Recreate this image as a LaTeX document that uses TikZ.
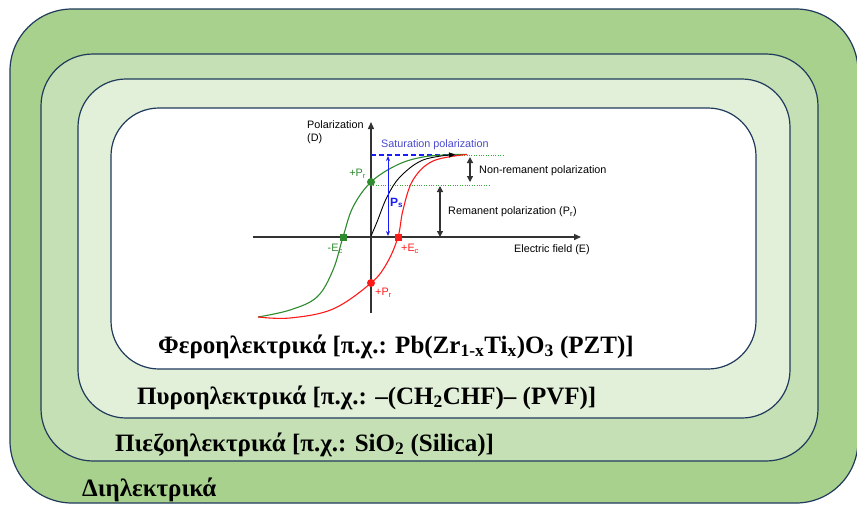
\documentclass[tikz,border=0pt]{standalone}
\usepackage{fontspec}
\setmainfont{Liberation Serif}
\newfontfamily\chartfont{Liberation Sans}
\usetikzlibrary{arrows.meta}
\definecolor{ringA}{HTML}{A9D18E}
\definecolor{ringB}{HTML}{C5E0B4}
\definecolor{ringC}{HTML}{E2F0D9}
\definecolor{rimcol}{HTML}{1F3A5C}
\definecolor{axiscol}{HTML}{333333}
\definecolor{grn}{HTML}{2E8B2E}
\definecolor{dotgrn}{HTML}{3AAA3A}
\definecolor{redc}{HTML}{FF1A1A}
\definecolor{bluec}{HTML}{1A1AFF}
\definecolor{satcol}{HTML}{4A4AD0}
\tikzset{
  ring/.style={draw=rimcol, line width=1.2pt},
  classlabel/.style={anchor=base west, inner sep=0pt, font=\fontsize{25}{27}\selectfont\bfseries},
  chartlabel/.style={inner sep=0pt, font=\chartfont\fontsize{10.8}{13}\selectfont},
  axisline/.style={draw=axiscol, line width=1.4pt, -{Triangle[length=7pt,width=6pt]}},
  dimarrow/.style={draw=axiscol, line width=1.3pt, {Triangle[length=6pt,width=6pt]}-{Triangle[length=6pt,width=6pt]}},
  guide/.style={draw=dotgrn, line width=0.8pt, dash pattern=on 0.8pt off 1.6pt},
  dot/.style={circle, inner sep=0pt, minimum size=8pt},
  sqr/.style={rectangle, inner sep=0pt, minimum size=7pt},
}
\begin{document}
\begin{tikzpicture}[x=1pt,y=-1pt]
\useasboundingbox (0,0) rectangle (857,504);
% nested classes of dielectrics
\draw[ring, fill=ringA, rounded corners=62] (10,9) rectangle (858,503);
\draw[ring, fill=ringB, rounded corners=52] (41,54) rectangle (818,461);
\draw[ring, fill=ringC, rounded corners=48] (78,79) rectangle (790,418);
\draw[ring, fill=white, rounded corners=48] (111,108) rectangle (756,369);

\node[classlabel] (ferro) at (158,353) {Φεροηλεκτρικά [π.χ.: Pb(Zr\textsubscript{1-x}Ti\textsubscript{x})O\textsubscript{3} (PZT)]};
\node[classlabel] (pyro) at (137,404) {Πυροηλεκτρικά [π.χ.: –(CH\textsubscript{2}CHF)– (PVF)]};
\node[classlabel] (piezo) at (115,451) {Πιεζοηλεκτρικά [π.χ.: SiO\textsubscript{2} (Silica)]};
\node[classlabel] (diel) at (82,496) {Διηλεκτρικά};

% hysteresis loop
\coordinate (O) at (371,237);
\coordinate (xl) at (253,237);
\coordinate (xr) at (581,237);
\coordinate (yb) at (371,313);
\coordinate (yt) at (371,122);
\draw[axisline] (xl) -- (xr);
\draw[axisline] (yb) -- (yt);

% guide lines
\coordinate (satL) at (371,155);
\coordinate (satR) at (457,155);
\coordinate (satE) at (503,155);
\coordinate (remL) at (371,185);
\coordinate (remR) at (490,185);
\draw[draw=bluec, line width=1.1pt, dash pattern=on 5pt off 3pt] (satL) -- (satR);
\draw[guide] (satR) -- (satE);
\draw[guide] (remL) -- (remR);

% branches
\draw[grn, line width=1.1pt] plot[smooth, tension=0.6] coordinates {(258,317) (290,310) (317,297) (333,270) (343,237) (353,207) (371,182) (397,165) (423,157) (453,154.5) (467,154.5)};
\draw[redc, line width=1.1pt] plot[smooth, tension=0.6] coordinates {(258,317) (290,318) (333,309) (371,283) (387,263) (398,237) (403,210) (413,180) (433,161) (467,154.5)};
\draw[black, line width=0.9pt, -{Triangle[length=6pt,width=5pt]}] plot[smooth, tension=0.6] coordinates {(371,236) (377,222) (387,197) (400,177) (423,160) (455,154.5)};

% Ps arrow
\coordinate (psT) at (388,156);
\coordinate (psB) at (388,236);
\draw[bluec, line width=1pt, {Stealth[length=5pt,width=4pt]}-{Stealth[length=5pt,width=4pt]}] (psT) -- (psB);
\node[chartlabel, text=bluec, font=\chartfont\fontsize{12}{13}\selectfont\bfseries, anchor=west] (ps) at (390,203) {P\textsubscript{s}};

% dimension arrows
\coordinate (nrT) at (470,157);
\coordinate (nrB) at (470,182);
\draw[dimarrow] (nrT) -- (nrB);
\coordinate (rmT) at (440,186);
\coordinate (rmB) at (440,237);
\draw[dimarrow] (rmT) -- (rmB);

% markers
\node[dot, fill=grn] (prg) at (371,182) {};
\node[sqr, fill=grn] (ecg) at (343,237) {};
\node[sqr, fill=redc] (ecr) at (398,237) {};
\node[dot, fill=redc] (prr) at (371,283) {};

% chart labels
\node[chartlabel, anchor=west, align=left] (ylab) at (307,132) {Polarization\\(D)};
\node[chartlabel, text=satcol, anchor=west] (satlab) at (381,145) {Saturation polarization};
\node[chartlabel, anchor=west] (nrlab) at (479,171) {Non-remanent polarization};
\node[chartlabel, anchor=west] (rmlab) at (448,212) {Remanent polarization (P\textsubscript{r})};
\node[chartlabel, anchor=east] (xlab) at (590,250) {Electric field (E)};
\node[chartlabel, text=grn, anchor=east] (prglab) at (366,174) {+P\textsubscript{r}};
\node[chartlabel, text=grn, anchor=east] (ecglab) at (343,249) {-E\textsubscript{c}};
\node[chartlabel, text=redc, anchor=west] (ecrlab) at (401,249) {+E\textsubscript{c}};
\node[chartlabel, text=redc, anchor=west] (prrlab) at (375,293) {+P\textsubscript{r}};
\end{tikzpicture}
\end{document}
